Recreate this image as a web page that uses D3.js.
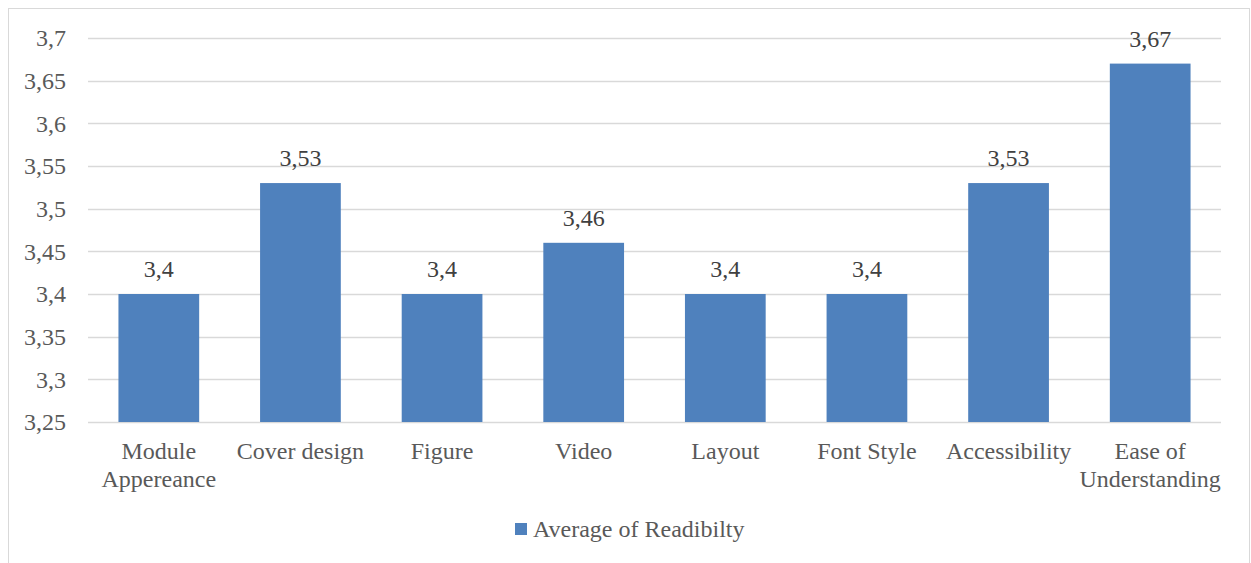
<!DOCTYPE html>
<html>
<head>
<meta charset="utf-8">
<script src="https://cdn.jsdelivr.net/npm/d3@7"></script>
<style>
  body { margin: 0; background: #fff; }
</style>
</head>
<body>
<div class="svg-canvas"></div>
<script>
// Data
var categories = [["Module", "Appereance"], ["Cover design"], ["Figure"], ["Video"],
                  ["Layout"], ["Font Style"], ["Accessibility"], ["Ease of", "Understanding"]];
var values = [3.4, 3.53, 3.4, 3.46, 3.4, 3.4, 3.53, 3.67];
var yTicks = [3.25, 3.3, 3.35, 3.4, 3.45, 3.5, 3.55, 3.6, 3.65, 3.7];
var seriesName = "Average of Readibilty";

var W = 1251, H = 563;
var m = {top: 38, left: 88, right: 30, bottom: 141};
var FONT = "'Liberation Serif'";
var FS = 24;

var svg = d3.select(".svg-canvas").append("svg")
    .attr("width", W)
    .attr("height", H);

// chart border
svg.append("rect")
    .attr("x", 8.5).attr("y", 8.5)
    .attr("width", 1241).attr("height", 600)
    .attr("fill", "none")
    .attr("stroke", "#d9d9d9");

var fmt = function(v){ return String(+v.toFixed(2)).replace(".", ","); };

var x = d3.scaleBand()
    .domain(d3.range(values.length))
    .range([m.left, W - m.right])
    .paddingInner(0.43)
    .paddingOuter(0.215);

var y = d3.scaleLinear()
    .domain([3.25, 3.7])
    .range([H - m.bottom, m.top]);

// gridlines
svg.append("g").selectAll("line")
    .data(yTicks)
    .enter()
    .append("line")
    .attr("x1", m.left).attr("x2", W - m.right)
    .attr("y1", function(d){ return Math.round(y(d)) + 0.5; })
    .attr("y2", function(d){ return Math.round(y(d)) + 0.5; })
    .attr("stroke", "#d9d9d9")
    .attr("stroke-width", 1.3);

// y axis
var yAxis = d3.axisLeft(y).tickValues(yTicks).tickSize(0).tickPadding(22).tickFormat(fmt);
var gy = svg.append("g")
    .attr("transform", "translate(" + m.left + ",0)")
    .call(yAxis);
gy.select(".domain").remove();
gy.selectAll("text")
    .style("font-family", FONT)
    .style("font-size", FS + "px")
    .attr("fill", "#595959");

// bars
svg.append("g").selectAll("rect")
    .data(values)
    .enter()
    .append("rect")
    .attr("x", function(d, i){ return x(i); })
    .attr("y", function(d){ return y(d); })
    .attr("width", x.bandwidth())
    .attr("height", function(d){ return y(3.25) - y(d); })
    .attr("fill", "#4f81bd");

// value labels
svg.append("g").selectAll("text")
    .data(values)
    .enter()
    .append("text")
    .attr("x", function(d, i){ return x(i) + x.bandwidth() / 2; })
    .attr("y", function(d){ return y(d) - 17; })
    .attr("text-anchor", "middle")
    .style("font-family", FONT)
    .style("font-size", FS + "px")
    .attr("fill", "#404040")
    .text(function(d){ return fmt(d); });

// category labels
var cat = svg.append("g").selectAll("text")
    .data(categories)
    .enter()
    .append("text")
    .attr("x", function(d, i){ return x(i) + x.bandwidth() / 2; })
    .attr("y", y(3.25) + 37)
    .attr("text-anchor", "middle")
    .style("font-family", FONT)
    .style("font-size", FS + "px")
    .attr("fill", "#595959");
cat.each(function(d){
    var t = d3.select(this);
    d.forEach(function(line, j){
        t.append("tspan")
            .attr("x", t.attr("x"))
            .attr("dy", j === 0 ? 0 : 28)
            .text(line);
    });
});

// legend
var lg = svg.append("g").attr("transform", "translate(515,523)");
lg.append("rect").attr("width", 12).attr("height", 12).attr("fill", "#4f81bd");
lg.append("text")
    .attr("x", 18).attr("y", 14)
    .style("font-family", FONT)
    .style("font-size", FS + "px")
    .attr("fill", "#595959")
    .text(seriesName);
</script>
</body>
</html>
